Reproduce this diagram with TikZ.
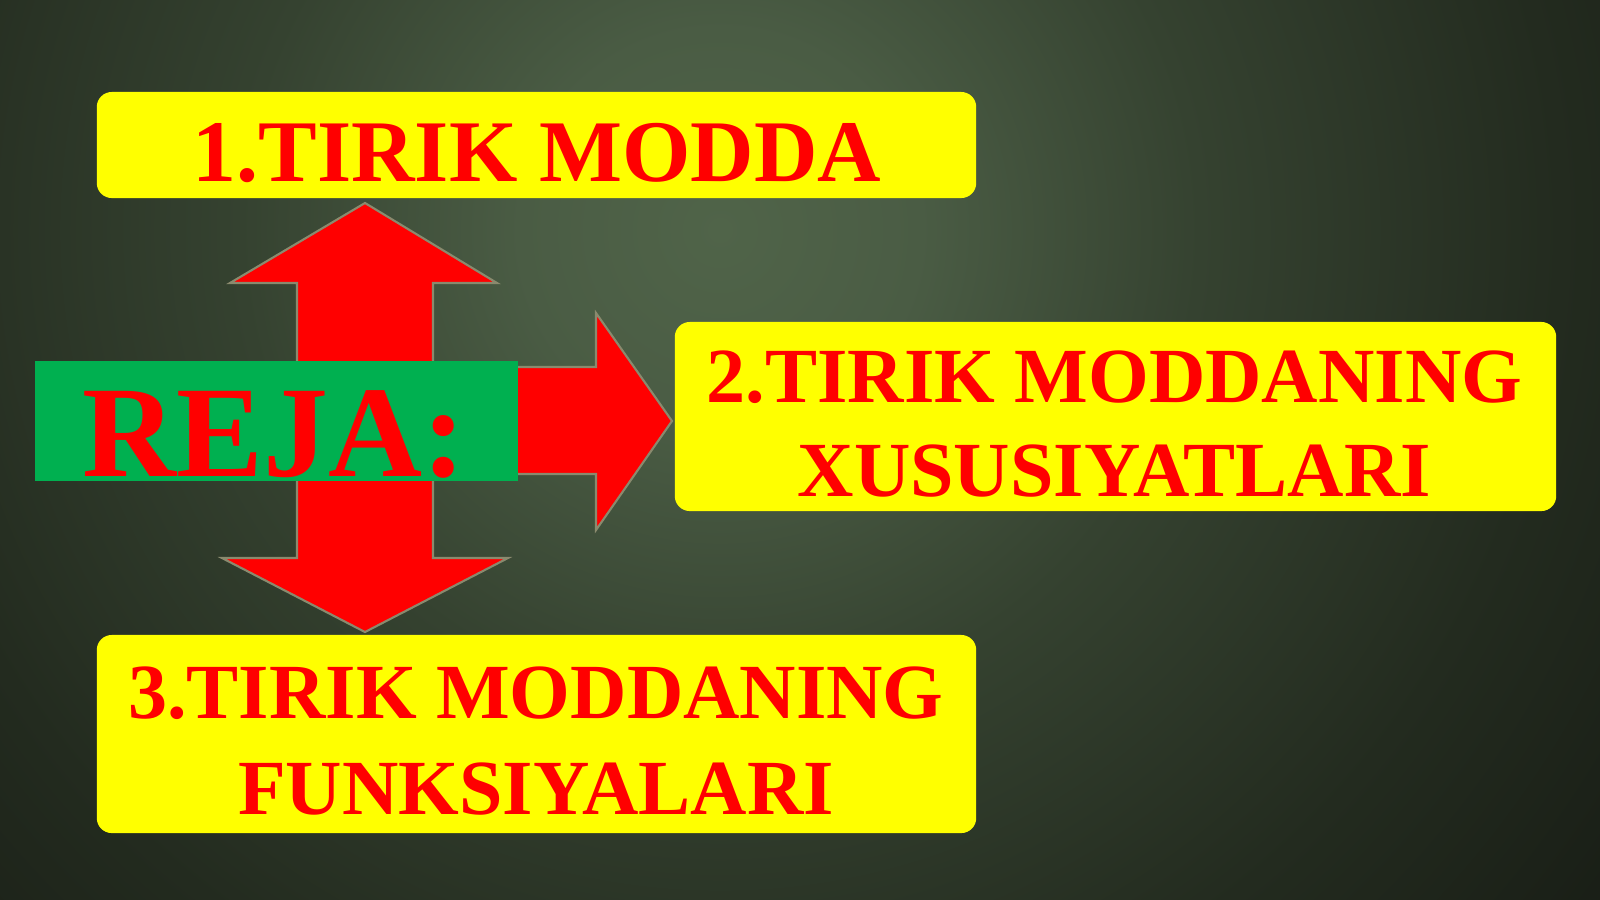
\documentclass[tikz,border=0pt]{standalone}
\usepackage{fontspec}
\setmainfont{Liberation Serif}
\definecolor{bgA}{HTML}{506449}
\definecolor{bgB}{HTML}{4A5C44}
\definecolor{bgC}{HTML}{354230}
\definecolor{bgD}{HTML}{232B1F}
\definecolor{bgE}{HTML}{191E16}
\definecolor{ryellow}{HTML}{FFFF00}
\definecolor{rred}{HTML}{FF0000}
\definecolor{rgreen}{HTML}{00B050}
\definecolor{aedge}{HTML}{8A8A6E}
\pgfdeclareradialshading{bgshade}{\pgfpoint{0bp}{0bp}}{color(0bp)=(bgA); color(5bp)=(bgB); color(12bp)=(bgC); color(21bp)=(bgD); color(28bp)=(bgE); color(50bp)=(bgE)}
\tikzset{
  ybox/.style={fill=ryellow, draw=none, rounded corners=15pt*0.2845, inner sep=0pt},
  btext/.style={text=rred, font=\bfseries\fontsize{22.2}{26}\selectfont, anchor=base, inner sep=0pt},
  ttext/.style={btext, font=\bfseries\fontsize{25}{28}\selectfont},
  rejatext/.style={text=rred, font=\bfseries\fontsize{37}{40}\selectfont, anchor=base, inner sep=0pt},
  redarrow/.style={fill=rred, draw=aedge, line width=0.6pt, line join=miter},
}
\begin{document}
\begin{tikzpicture}[x=0.01cm, y=-0.01cm]
\useasboundingbox (0,0) rectangle (1600,899);
% background
\fill[bgE] (0,0) rectangle (1600,899);
\begin{scope}
\clip (0,0) rectangle (1600,899);
\shade[shading=bgshade] (720-1000,230-1000) rectangle (720+1000,230+1000);
\end{scope}
% arrows
\draw[redarrow] (365,203) -- (497,283) -- (433,283) -- (433,558) -- (508,558) -- (365,632) -- (222,558) -- (297,558) -- (297,283) -- (230,283) -- cycle;
\draw[redarrow] (510,367) -- (596,367) -- (596,313) -- (672,421) -- (596,530) -- (596,474) -- (510,474) -- cycle;
% REJA box
\node[fill=rgreen, draw=none, minimum width=483*0.2845pt, minimum height=120*0.2845pt, inner sep=0pt] (reja) at (276.5,421) {};
\node[rejatext] (rejat) at (274,476) {REJA:};
% box 1
\node[ybox, minimum width=879*0.2845pt, minimum height=106*0.2845pt] (b1) at (536.5,145) {};
\node[ttext] (b1t) at (537,181) {1.TIRIK MODDA};
% box 2
\node[ybox, minimum width=881*0.2845pt, minimum height=189*0.2845pt] (b2) at (1115.5,416.5) {};
\node[btext] (b2a) at (1114.5,402) {2.TIRIK MODDANING};
\node[btext] (b2b) at (1114.5,496) {XUSUSIYATLARI};
% box 3
\node[ybox, minimum width=879*0.2845pt, minimum height=198*0.2845pt] (b3) at (536.5,734) {};
\node[btext] (b3a) at (536,718) {3.TIRIK MODDANING};
\node[btext] (b3b) at (536,814) {FUNKSIYALARI};
\end{tikzpicture}
\end{document}
